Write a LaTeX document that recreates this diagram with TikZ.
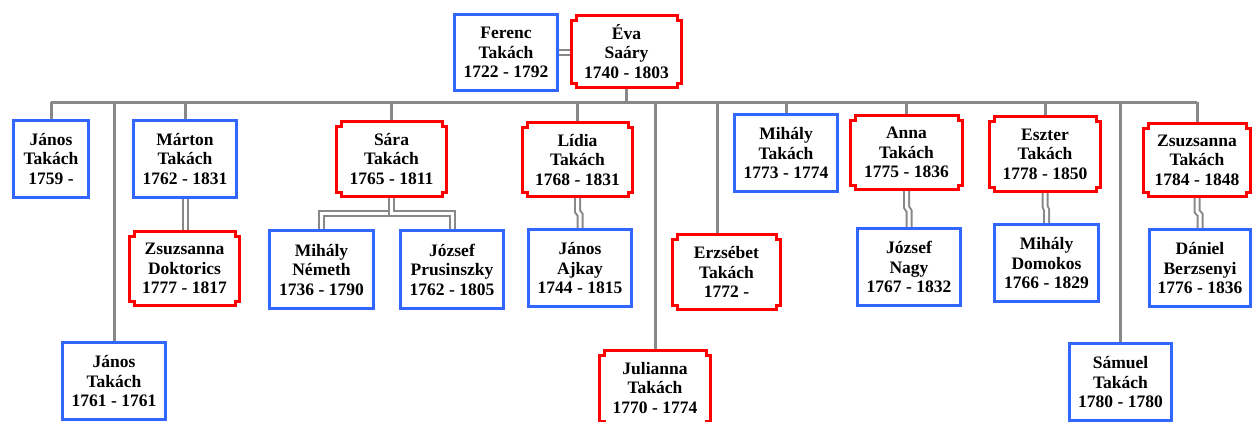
\documentclass[tikz,border=0pt]{standalone}
\usepackage{fontspec}
\setmainfont{Liberation Serif}
\usetikzlibrary{calc,backgrounds}

\definecolor{maleblue}{RGB}{51,102,255}
\definecolor{femred}{RGB}{255,0,0}
\definecolor{linkgray}{RGB}{136,136,136}

\tikzset{
  person/.style={rectangle, inner sep=0pt, outer sep=0pt, align=center,
    font=\bfseries\fontsize{17.5}{19.5}\selectfont, fill=white},
  size/.style 2 args={minimum width=#1pt, minimum height=#2pt},
  male/.style={person, draw=maleblue, line width=3pt},
  female/.style={person},
  notchline/.style={draw=femred, line width=3pt, line join=miter},
  link/.style={draw=linkgray, line width=3pt},
  spouse/.style={draw=linkgray, line width=2pt, double=white, double distance=3pt},
}

% outline with square notches cut into the four corners
\newcommand{\notchframe}[1]{%
  \draw[notchline]
    ([xshift=4.5pt]#1.north west) -- ([xshift=-4.5pt]#1.north east)
    -- ([xshift=-4.5pt,yshift=-4.5pt]#1.north east) -- ([yshift=-4.5pt]#1.north east)
    -- ([yshift=4.5pt]#1.south east) -- ([xshift=-4.5pt,yshift=4.5pt]#1.south east)
    -- ([xshift=-4.5pt]#1.south east) -- ([xshift=4.5pt]#1.south west)
    -- ([xshift=4.5pt,yshift=4.5pt]#1.south west) -- ([yshift=4.5pt]#1.south west)
    -- ([yshift=-4.5pt]#1.north west) -- ([xshift=4.5pt,yshift=-4.5pt]#1.north west)
    -- cycle;}

% spouse link with a small sideways jog halfway down
\newcommand{\joglink}[2]{%
  \draw[spouse] (#1.south)
    -- ($(#1.south)!0.45!(#1.south |- #2.north)$)
    -- ($(#2.north)!0.45!(#2.north |- #1.south)$)
    -- (#2.north);}

\begin{document}
\begin{tikzpicture}[x=1pt, y=-1pt]
\useasboundingbox (0,0) rectangle (1252,421);
\clip (0,0) rectangle (1252,421);

% parents
\node[male, size={103}{76}] (ferenc) at (506,52.5) {Ferenc\\Takách\\1722 - 1792};
\node[female, size={110}{72}] (eva) at (626.5,51.5) {Éva\\Saáry\\1740 - 1803};

% children
\node[male, size={75}{77}] (janos59) at (51,159) {János\\Takách\\1759 -};
\node[male, size={103}{77}] (janos61) at (114,381) {János\\Takách\\1761 - 1761};
\node[male, size={103}{77}] (marton) at (185,159) {Márton\\Takách\\1762 - 1831};
\node[female, size={110}{75}] (sara) at (391.5,159) {Sára\\Takách\\1765 - 1811};
\node[female, size={110}{74}] (lidia) at (577.5,159.5) {Lídia\\Takách\\1768 - 1831};
\node[female, size={111}{75}] (julianna) at (655,388) {Julianna\\Takách\\1770 - 1774};
\node[female, size={108}{75}] (erzsebet) at (726.5,272) {Erzsébet\\Takách\\1772 -};
\node[male, size={103}{77}] (mihalyT) at (786,153) {Mihály\\Takách\\1773 - 1774};
\node[female, size={112}{74}] (anna) at (906.5,152.5) {Anna\\Takách\\1775 - 1836};
\node[female, size={111}{75}] (eszter) at (1045,154) {Eszter\\Takách\\1778 - 1850};
\node[male, size={102}{77}] (samuel) at (1120.5,382) {Sámuel\\Takách\\1780 - 1780};
\node[female, size={107}{73}] (zsuzsT) at (1197,160) {Zsuzsanna\\Takách\\1784 - 1848};

% spouses of the children
\node[female, size={110}{74}] (doktorics) at (184.5,268.5) {Zsuzsanna\\Doktorics\\1777 - 1817};
\node[male, size={104}{78}] (nemeth) at (321.5,269.5) {Mihály\\Németh\\1736 - 1790};
\node[male, size={103}{78}] (prusinszky) at (452,269.5) {József\\Prusinszky\\1762 - 1805};
\node[male, size={103}{77}] (ajkay) at (580,268) {János\\Ajkay\\1744 - 1815};
\node[male, size={103}{77}] (nagy) at (909,267) {József\\Nagy\\1767 - 1832};
\node[male, size={104}{77}] (domokos) at (1046.5,263) {Mihály\\Domokos\\1766 - 1829};
\node[male, size={101}{77}] (berzsenyi) at (1200,268) {Dániel\\Berzsenyi\\1776 - 1836};

% notched frames of the women's boxes
\foreach \n in {eva,sara,lidia,julianna,erzsebet,anna,eszter,zsuzsT,doktorics}
  {\notchframe{\n}}

\coordinate (bar) at (0,102);
\coordinate (erzdrop) at (717,102);
\coordinate (saraknee) at (0,213);

% connectors, behind the boxes
\begin{scope}[on background layer]
\draw[spouse] (ferenc.east) -- (ferenc.east -| eva.west);
\draw[link] (eva.south) -- (eva.south |- bar);
\draw[link] (janos59.north |- bar) -- (zsuzsT.north |- bar);
\foreach \c in {janos59,janos61,marton,sara,lidia,julianna,mihalyT,anna,eszter,samuel,zsuzsT}
  {\draw[link] (\c.north |- bar) -- (\c.north);}
\draw[link] (erzdrop) -- (erzdrop |- erzsebet.north);

\draw[spouse] (marton.south) -- (doktorics.north -| marton.south);
\draw[spouse] (sara.south) -- (sara.south |- saraknee) -- (nemeth.north |- saraknee) -- (nemeth.north);
\draw[spouse] (sara.south) -- (sara.south |- saraknee) -- (prusinszky.north |- saraknee) -- (prusinszky.north);
\joglink{lidia}{ajkay}
\joglink{anna}{nagy}
\joglink{eszter}{domokos}
\joglink{zsuzsT}{berzsenyi}
\end{scope}
\end{tikzpicture}
\end{document}
